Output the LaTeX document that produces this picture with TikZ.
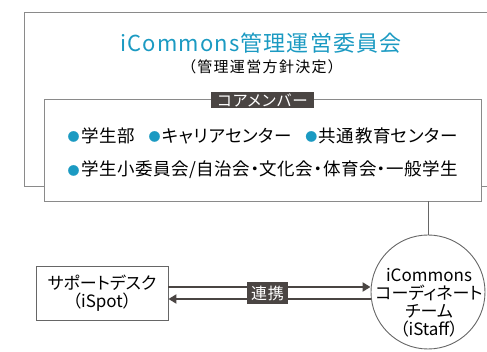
\documentclass[tikz,border=0pt]{standalone}
\usepackage{fontspec}
\setmainfont{Noto Sans CJK JP}[RawFeature=+palt]
\usepackage{tikz}
\usetikzlibrary{arrows.meta,positioning}
\definecolor{accent}{HTML}{1B9AC2}
\definecolor{darkbg}{HTML}{4A4543}
\definecolor{framegray}{HTML}{8A8A8A}
\newcommand{\bul}{\raisebox{0.8pt}{\color{accent}\fontsize{12}{12}\selectfont ●}\hspace{1.5pt}}
\newcommand{\fs}[1]{\fontsize{#1}{#1}\selectfont}

\begin{document}
\begin{tikzpicture}[x=1pt,y=-1pt,
  frame/.style={draw=framegray, line width=0.9pt, inner sep=0pt},
  tag/.style={fill=darkbg, text=white, inner xsep=6pt, inner ysep=1.5pt, font=\fs{15.5}},
  link/.style={draw=darkbg, line width=2.4pt, -{Triangle[length=8pt,width=9pt]}}]
\clip (0,0) rectangle (487,352);
% outer committee box
\node[frame, minimum width=480pt, minimum height=174pt] (committee) at (264,99) {};
\node (title) at (261,43) [text=accent, font=\fs{22}] {\addfontfeatures{LetterSpace=5}iCommons管理運営委員会};
\node (sub) at (262,67) [font=\fs{15}] {\addfontfeatures{LetterSpace=9}（管理運営方針決定）};
% core members
\node[frame, fill=white, minimum width=437pt, minimum height=102pt] (core) at (262.5,150) {};
\node[tag] (coretag) at (262.5,100) {\addfontfeatures{LetterSpace=6}コアメンバー};
\node (row1) at (64,136) [anchor=west, font=\fs{17.5}] {\addfontfeatures{LetterSpace=3}\bul 学生部\hspace{14pt}\bul キャリアセンター\hspace{14pt}\bul 共通教育センター};
\node (row2) at (64,170) [anchor=west, font=\fs{17.5}] {\addfontfeatures{LetterSpace=3}\bul 学生小委員会/自治会・文化会・体育会・一般学生};
% coordinate team
\node[frame, draw=black!60, circle, minimum size=114pt] (staff) at (428,292) {};
\node (stafftxt) at (429,303) [align=center, font=\fs{17}, inner sep=0pt] {iCommons\\[1pt]コーディネート\\[1pt]チーム\\[1pt]（iStaff）};
\draw[draw=black!60, line width=0.9pt] (core.south -| staff.north) -- (staff.north);
% support desk
\node[frame, draw=black!60, minimum width=132pt, minimum height=54pt, align=center, font=\fs{17}] (desk) at (102,293) {サポートデスク\\[1pt]（iSpot）};
\coordinate (deskhi) at (desk.east |- 0,287);
\coordinate (desklo) at (desk.east |- 0,299);
\draw[link] (deskhi) -- (deskhi -| staff.west);
\draw[link] (desklo -| staff.west) -- (desklo);
\node[tag, font=\fs{16}, inner xsep=4pt, inner ysep=4pt] (renkei) at (267.5,293) {\addfontfeatures{LetterSpace=4}連携};
\end{tikzpicture}
\end{document}
